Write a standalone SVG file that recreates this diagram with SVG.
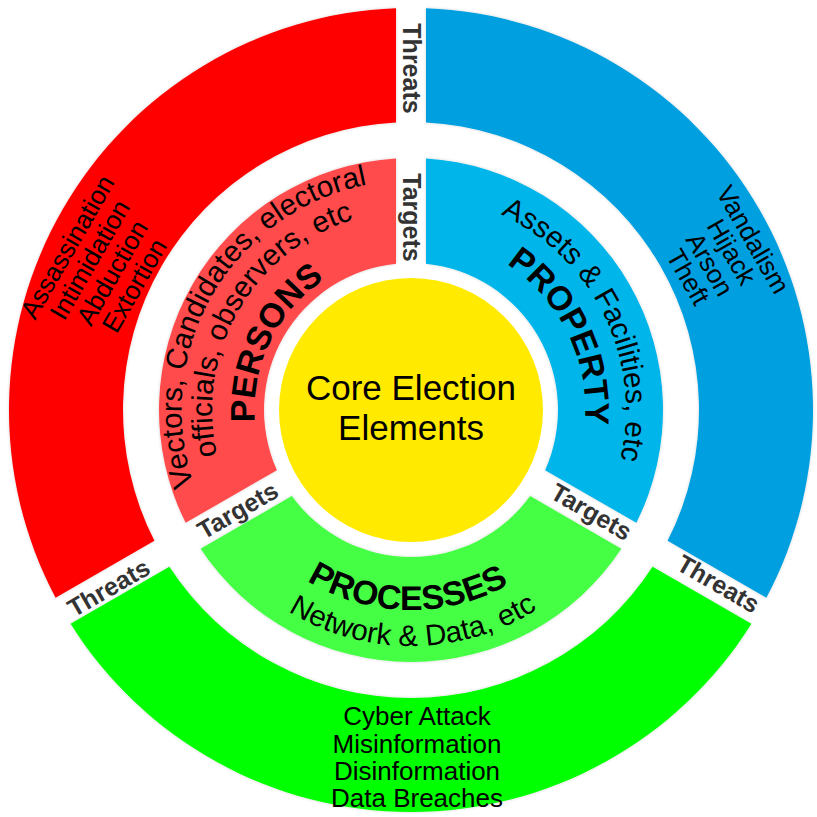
<svg xmlns="http://www.w3.org/2000/svg" width="817" height="817" viewBox="0 0 817 817">
<style>
text{font-family:"Liberation Sans",Arial,sans-serif;fill:#000}
.lbl{font-size:25px;font-weight:bold;fill:#333;text-anchor:middle}
.thr{font-size:26px;text-anchor:middle}
.sub{font-size:29.5px}
.big{font-size:34px;font-weight:bold}
.core{font-size:35px;text-anchor:middle}
.seg{filter:url(#sh)}
</style>
<defs>
<filter id="sh" x="-5%" y="-5%" width="110%" height="110%">
<feDropShadow dx="0" dy="0" stdDeviation="1.5" flood-color="#000" flood-opacity="0.18"/>
</filter>
<path id="pVec" d="M 212.25 524.75 A 229.5 229.5 0 0 1 411 180.5"/>
<path id="pOff" d="M 238.66 509.5 A 199 199 0 0 1 411 211"/>
<path id="pPer" d="M 281.26 497.51 A 156.5 156.5 0 0 1 400.08 253.88"/>
<path id="pAss" d="M 426 195.52 A 215 215 0 0 1 589.24 530.23"/>
<path id="pPro" d="M 423.17 236.02 A 174.4 174.4 0 0 1 555.58 507.52"/>
<path id="pPrc" d="M 236.08 506.96 A 200 200 0 0 0 582.43 513.01"/>
<path id="pNet" d="M 207.66 529.78 A 236 236 0 0 0 616.4 526.21"/>
</defs>
<rect width="817" height="817" fill="#fff"/>

<g id="threats-persons">
<path class="seg" d="M 55.6 597.87 A 402 402 0 0 1 396 8.28 L 396 122.39 A 288 288 0 0 0 154.42 540.82 Z" fill="#ff0000"/>
<g transform="translate(100.5,266) rotate(-60)">
<text class="thr" x="0" y="-29.2">Assassination</text>
<text class="thr" x="0" y="-3.45">Intimidation</text>
<text class="thr" x="0" y="22.3">Abduction</text>
<text class="thr" x="0" y="48">Extortion</text>
</g>
</g>

<g id="threats-property">
<path class="seg" d="M 426 8.28 A 402 402 0 0 1 766.4 597.87 L 667.58 540.82 A 288 288 0 0 0 426 122.39 Z" fill="#009fe0"/>
<g transform="translate(721,258) rotate(60)">
<text class="thr" x="0" y="-28.1">Vandalism</text>
<text class="thr" x="0" y="-3.1">Hijack</text>
<text class="thr" x="0" y="21.9">Arson</text>
<text class="thr" x="0" y="46.9">Theft</text>
</g>
</g>

<g id="threats-processes">
<path class="seg" d="M 751.4 623.85 A 402 402 0 0 1 70.6 623.85 L 169.42 566.8 A 288 288 0 0 0 652.58 566.8 Z" fill="#00ff00"/>
<text class="thr" x="417" y="725">Cyber Attack</text>
<text class="thr" x="417" y="752.5">Misinformation</text>
<text class="thr" x="417" y="780">Disinformation</text>
<text class="thr" x="417" y="807">Data Breaches</text>
</g>

<g id="persons">
<path class="seg" d="M 185.65 522.79 A 252 252 0 0 1 396 158.45 L 396 263.77 A 147 147 0 0 0 276.86 470.13 Z" fill="#ff4b4b"/>
<text class="sub"><textPath href="#pVec" startOffset="50%" text-anchor="middle">Vectors, Candidates, electoral</textPath></text>
<text class="sub"><textPath href="#pOff" startOffset="50%" text-anchor="middle">officials, observers, etc</textPath></text>
<text class="big"><textPath href="#pPer" startOffset="50%" text-anchor="middle">PERSONS</textPath></text>
</g>

<g id="property">
<path class="seg" d="M 426 158.45 A 252 252 0 0 1 636.35 522.79 L 545.14 470.13 A 147 147 0 0 0 426 263.77 Z" fill="#03b5ea"/>
<text class="sub"><textPath href="#pAss" startOffset="50%" text-anchor="middle">Assets &amp; Facilities, etc</textPath></text>
<text class="big"><textPath href="#pPro" startOffset="50%" text-anchor="middle">PROPERTY</textPath></text>
</g>

<g id="processes">
<path class="seg" d="M 621.35 548.77 A 252 252 0 0 1 200.65 548.77 L 291.86 496.11 A 147 147 0 0 0 530.14 496.11 Z" fill="#44ff44"/>
<text class="big"><textPath href="#pPrc" startOffset="50%" text-anchor="middle">PROCESSES</textPath></text>
<text class="sub"><textPath href="#pNet" startOffset="50%" text-anchor="middle">Network &amp; Data, etc</textPath></text>
</g>

<g id="core">
<circle cx="411" cy="410" r="132" fill="#ffea00"/>
<text class="core" x="411" y="400">Core Election</text>
<text class="core" x="411" y="440">Elements</text>
</g>

<g id="labels">
<text class="lbl" transform="translate(412,68.5) rotate(90)" y="9">Threats</text>
<text class="lbl" transform="translate(108.5,587.5) rotate(-30)" y="9">Threats</text>
<text class="lbl" transform="translate(718.5,583.5) rotate(30)" y="9">Threats</text>
<text class="lbl" transform="translate(412,217.5) rotate(90)" y="9">Targets</text>
<text class="lbl" transform="translate(237.5,510) rotate(-30)" y="9">Targets</text>
<text class="lbl" transform="translate(591.5,511.5) rotate(30)" y="9">Targets</text>
</g>
</svg>
